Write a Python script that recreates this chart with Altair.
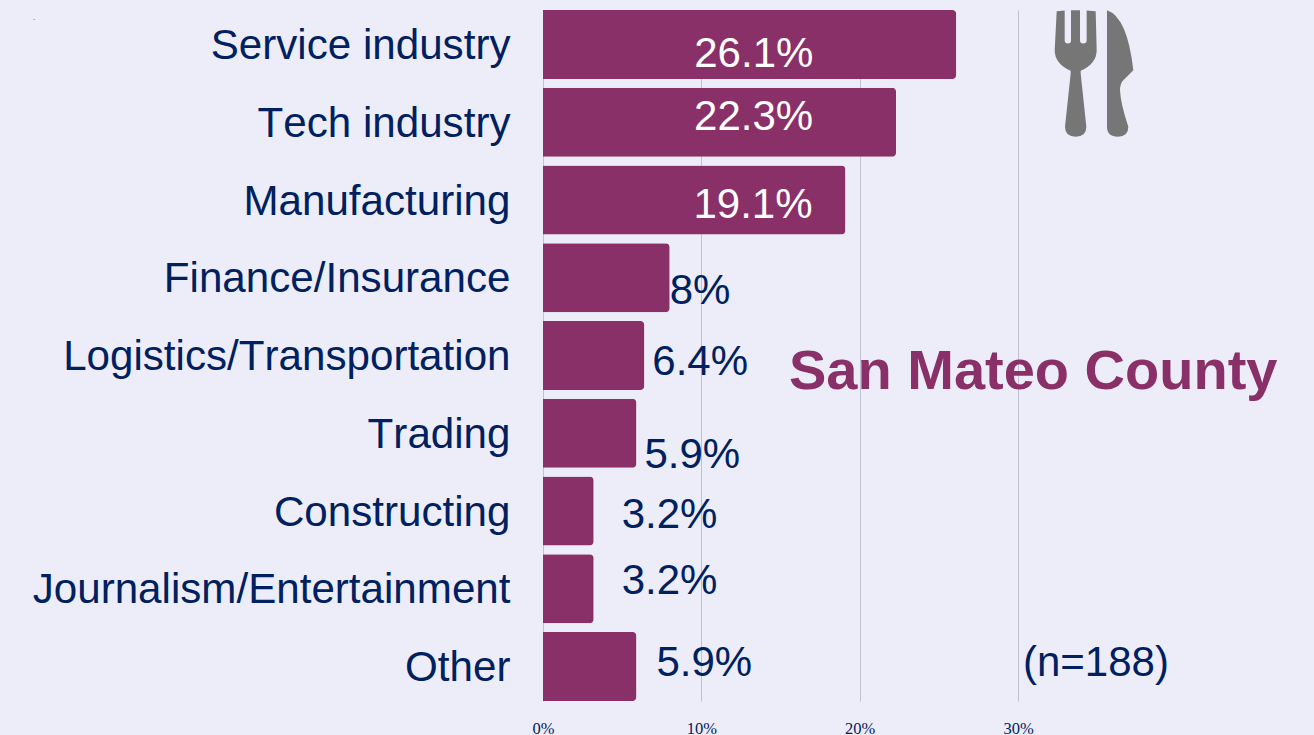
import altair as alt
import pandas as pd

categories = ["Service industry", "Tech industry", "Manufacturing", "Finance/Insurance",
              "Logistics/Transportation", "Trading", "Constructing",
              "Journalism/Entertainment", "Other"]
values = [26.1, 22.3, 19.1, 8.0, 6.4, 5.9, 3.2, 3.2, 5.9]
labels = ["26.1%", "22.3%", "19.1%", "8%", "6.4%", "5.9%", "3.2%", "3.2%", "5.9%"]
x_ticks = [0, 10, 20, 30]

BG = "#ecedf8"
BAR = "#8a3068"
NAVY = "#002060"
SANS = "Liberation Sans"

df = pd.DataFrame({"category": categories, "value": values, "label": labels})

x_scale = alt.Scale(domain=[0, 48], nice=False)
y_scale = alt.Scale(domain=categories, paddingInner=0.1125, paddingOuter=0, round=False)

bars = alt.Chart(df).mark_bar(color=BAR, cornerRadiusEnd=4).encode(
    x=alt.X("value:Q", scale=x_scale, axis=alt.Axis(
        values=x_ticks, labelExpr="datum.value + '%'", title=None, domain=False, ticks=False,
        grid=True, gridColor="#bfc2d2", gridWidth=1, labelFont="Liberation Serif", labelFontSize=16.5,
        labelColor=NAVY, labelPadding=19, labelFlush=False)),
    y=alt.Y("category:N", sort=categories, scale=y_scale, axis=alt.Axis(
        title=None, domain=False, ticks=False, grid=False, labelFont=SANS, labelFontSize=42.15,
        labelColor=NAVY, labelPadding=33, labelLimit=700, labelOffset=1.6)),
)

# label placement: (dx from bar end, dy from bar centre, colour)
placement = [(-262, 9, "white"), (-202, -5, "white"), (-152, 5, "white"),
             (0, 13, NAVY), (8, 6, NAVY), (8, 22, NAVY),
             (28, 4, NAVY), (28, -8, NAVY), (20, -3, NAVY)]

layers = [bars]
for cat, (dx, dy, colour) in zip(categories, placement):
    layers.append(
        alt.Chart(df[df.category == cat]).mark_text(
            font=SANS, fontSize=42, align="left", baseline="middle", dx=dx, dy=dy, color=colour
        ).encode(x=alt.X("value:Q", scale=x_scale), y=alt.Y("category:N", sort=categories, scale=y_scale),
                 text="label:N")
    )

title = alt.Chart(pd.DataFrame({"t": ["San Mateo County"]})).mark_text(
    font=SANS, fontSize=56, fontWeight="bold", align="left", baseline="middle", color=BAR
).encode(x=alt.value(246), y=alt.value(362), text="t:N")

note = alt.Chart(pd.DataFrame({"t": ["(n=188)"]})).mark_text(
    font=SANS, fontSize=42, align="left", baseline="middle", color=NAVY
).encode(x=alt.value(480), y=alt.value(653), text="t:N")

speck = alt.Chart(pd.DataFrame({"t": ["."]})).mark_text(
    font=SANS, fontSize=7, align="center", baseline="middle", color=NAVY
).encode(x=alt.value(-509), y=alt.value(8), text="t:N")

FORK = ("M-112 -187 L-88 -189 L-88 -100 Q-88 -90 -78 -90 Q-69 -90 -69 -100 L-69 -190 L-42 -190 L-42 -100 "
        "Q-42 -90 -32 -90 Q-22 -90 -22 -100 L-22 -189 L5 -187 L8 -70 Q8 -30 -40 -8 L-40 0 L-23 160 "
        "Q-23 190 -55 190 Q-87 190 -87 160 L-70 0 L-70 -8 Q-118 -30 -118 -70 Z")
KNIFE = ("M39 -190 Q100 -170 118 -10 L88 20 Q78 30 78 50 Q80 90 103 160 Q103 190 72 190 Q39 190 39 160 Z")

icon = alt.Chart(pd.DataFrame({"s": [FORK + " " + KNIFE]})).mark_point(
    filled=True, opacity=1, color="#767676", strokeWidth=0, size=0.444
).encode(x=alt.value(551), y=alt.value(63.5), shape=alt.Shape("s:N", scale=None, legend=None))

chart = alt.layer(*layers, title, note, speck, icon).resolve_scale(x="shared", y="shared").properties(
    width=760, height=691, background=BG,
    padding={"left": 24, "top": 2, "right": 0, "bottom": 0},
).configure_view(stroke=None)

chart.save("out.html", embed_options={"renderer": "svg", "actions": False,
                                      "defaultStyle": f"html,body{{background:{BG};overflow:hidden}} svg text{{font-kerning:none}}"})
